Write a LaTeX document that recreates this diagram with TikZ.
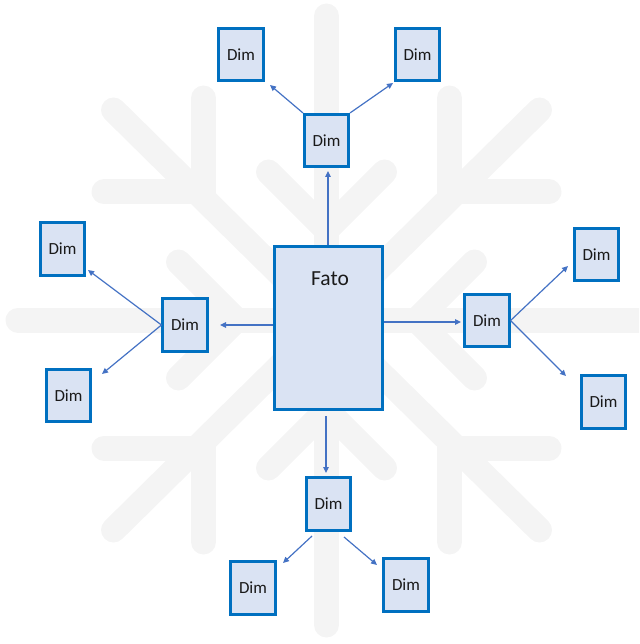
\documentclass[tikz,border=0pt]{standalone}
\usepackage{fontspec}
\setmainfont{Carlito}
\usetikzlibrary{arrows.meta}
\definecolor{flake}{HTML}{F4F4F4}
\definecolor{boxline}{HTML}{0070C0}
\definecolor{boxfill}{HTML}{DAE3F3}
\definecolor{arrowblue}{HTML}{4472C4}
\definecolor{ink}{HTML}{1A1A1A}
\begin{document}
\begin{tikzpicture}[x=1pt,y=-1pt,
  flakebar/.style={draw=flake,line width=25pt,line cap=round,line join=round},
  dimbox/.style={draw=boxline,fill=boxfill,line width=2.6pt,minimum width=44.5pt,
    minimum height=52.5pt,inner sep=0pt,font=\fontsize{17}{20}\selectfont,text=ink},
  factbox/.style={draw=boxline,fill=boxfill,line width=2.6pt,minimum width=108pt,
    minimum height=163pt,inner sep=0pt},
  arr/.style={draw=arrowblue,line width=1.2pt,-{Triangle[length=6pt,width=5.5pt]}}]
\useasboundingbox (0,0) rectangle (639,644);
\clip (0,0) rectangle (639,644);

% snowflake in the background
\begin{scope}
  \draw[flakebar] (326.5,16) -- (326.5,625);
  \draw[flakebar] (18,320) -- (660,320);
  \draw[flakebar] (113.5,110) -- (539.5,530);
  \draw[flakebar] (539.5,110) -- (113.5,530);
  % branches on the straight arms
  \draw[flakebar] (268.5,172) -- (326.5,230) -- (384.5,172);
  \draw[flakebar] (268.5,468) -- (326.5,410) -- (384.5,468);
  \draw[flakebar] (178.5,262) -- (236.5,320) -- (178.5,378);
  \draw[flakebar] (474.5,262) -- (416.5,320) -- (474.5,378);
  % branches on the diagonal arms
  \draw[flakebar] (203.5,98) -- (203.5,192) -- (104,192);
  \draw[flakebar] (449.5,98) -- (449.5,192) -- (549,192);
  \draw[flakebar] (104,448) -- (203.5,448) -- (203.5,542);
  \draw[flakebar] (449.5,542) -- (449.5,448) -- (549,448);
\end{scope}

% fact table
\node[factbox] (fato) at (328.5,328) {};
\node[font=\fontsize{21.5}{24}\selectfont,text=ink] (fatolabel) at (330,279) {Fato};

% dimension tables
\node[dimbox] (tm) at (326.5,140.5) {Dim};
\node[dimbox] (tl) at (241,54.5) {Dim};
\node[dimbox] (tr) at (417.5,54.5) {Dim};
\node[dimbox] (lm) at (185,325) {Dim};
\node[dimbox] (lt) at (62.5,249) {Dim};
\node[dimbox] (lb) at (68.5,395.5) {Dim};
\node[dimbox] (rm) at (487,320.5) {Dim};
\node[dimbox] (rt) at (596.5,254.5) {Dim};
\node[dimbox] (rb) at (603.5,402) {Dim};
\node[dimbox] (bm) at (328.5,504) {Dim};
\node[dimbox] (bl) at (253,588) {Dim};
\node[dimbox] (br) at (406,585) {Dim};

% arrow tips stop a little short of the boxes
\coordinate (tm-in) at (328,171);
\coordinate (tl-in) at (270,85);
\coordinate (tr-in) at (393,83);
\coordinate (lm-in) at (220,325);
\coordinate (lt-in) at (88,270);
\coordinate (lb-in) at (102,374);
\coordinate (rm-in) at (461,322);
\coordinate (rt-in) at (568,266);
\coordinate (rb-in) at (566,376);
\coordinate (bm-out) at (326,416);
\coordinate (bm-in) at (326,473);
\coordinate (bm-l) at (312,536);
\coordinate (bm-r) at (344,537);
\coordinate (bl-in) at (283,563);
\coordinate (br-in) at (377,565);

\draw[arr] (fato.north -| tm-in) -- (tm-in);
\draw[arr] (tm.north west) -- (tl-in);
\draw[arr] (tm.north east) -- (tr-in);
\draw[arr] (fato.west |- lm-in) -- (lm-in);
\draw[arr] (lm.west) -- (lt-in);
\draw[arr] (lm.west) -- (lb-in);
\draw[arr] (fato.east |- rm-in) -- (rm-in);
\draw[arr] (rm.east) -- (rt-in);
\draw[arr] (rm.east) -- (rb-in);
\draw[arr] (bm-out) -- (bm-in);
\draw[arr] (bm-l) -- (bl-in);
\draw[arr] (bm-r) -- (br-in);
\end{tikzpicture}
\end{document}
